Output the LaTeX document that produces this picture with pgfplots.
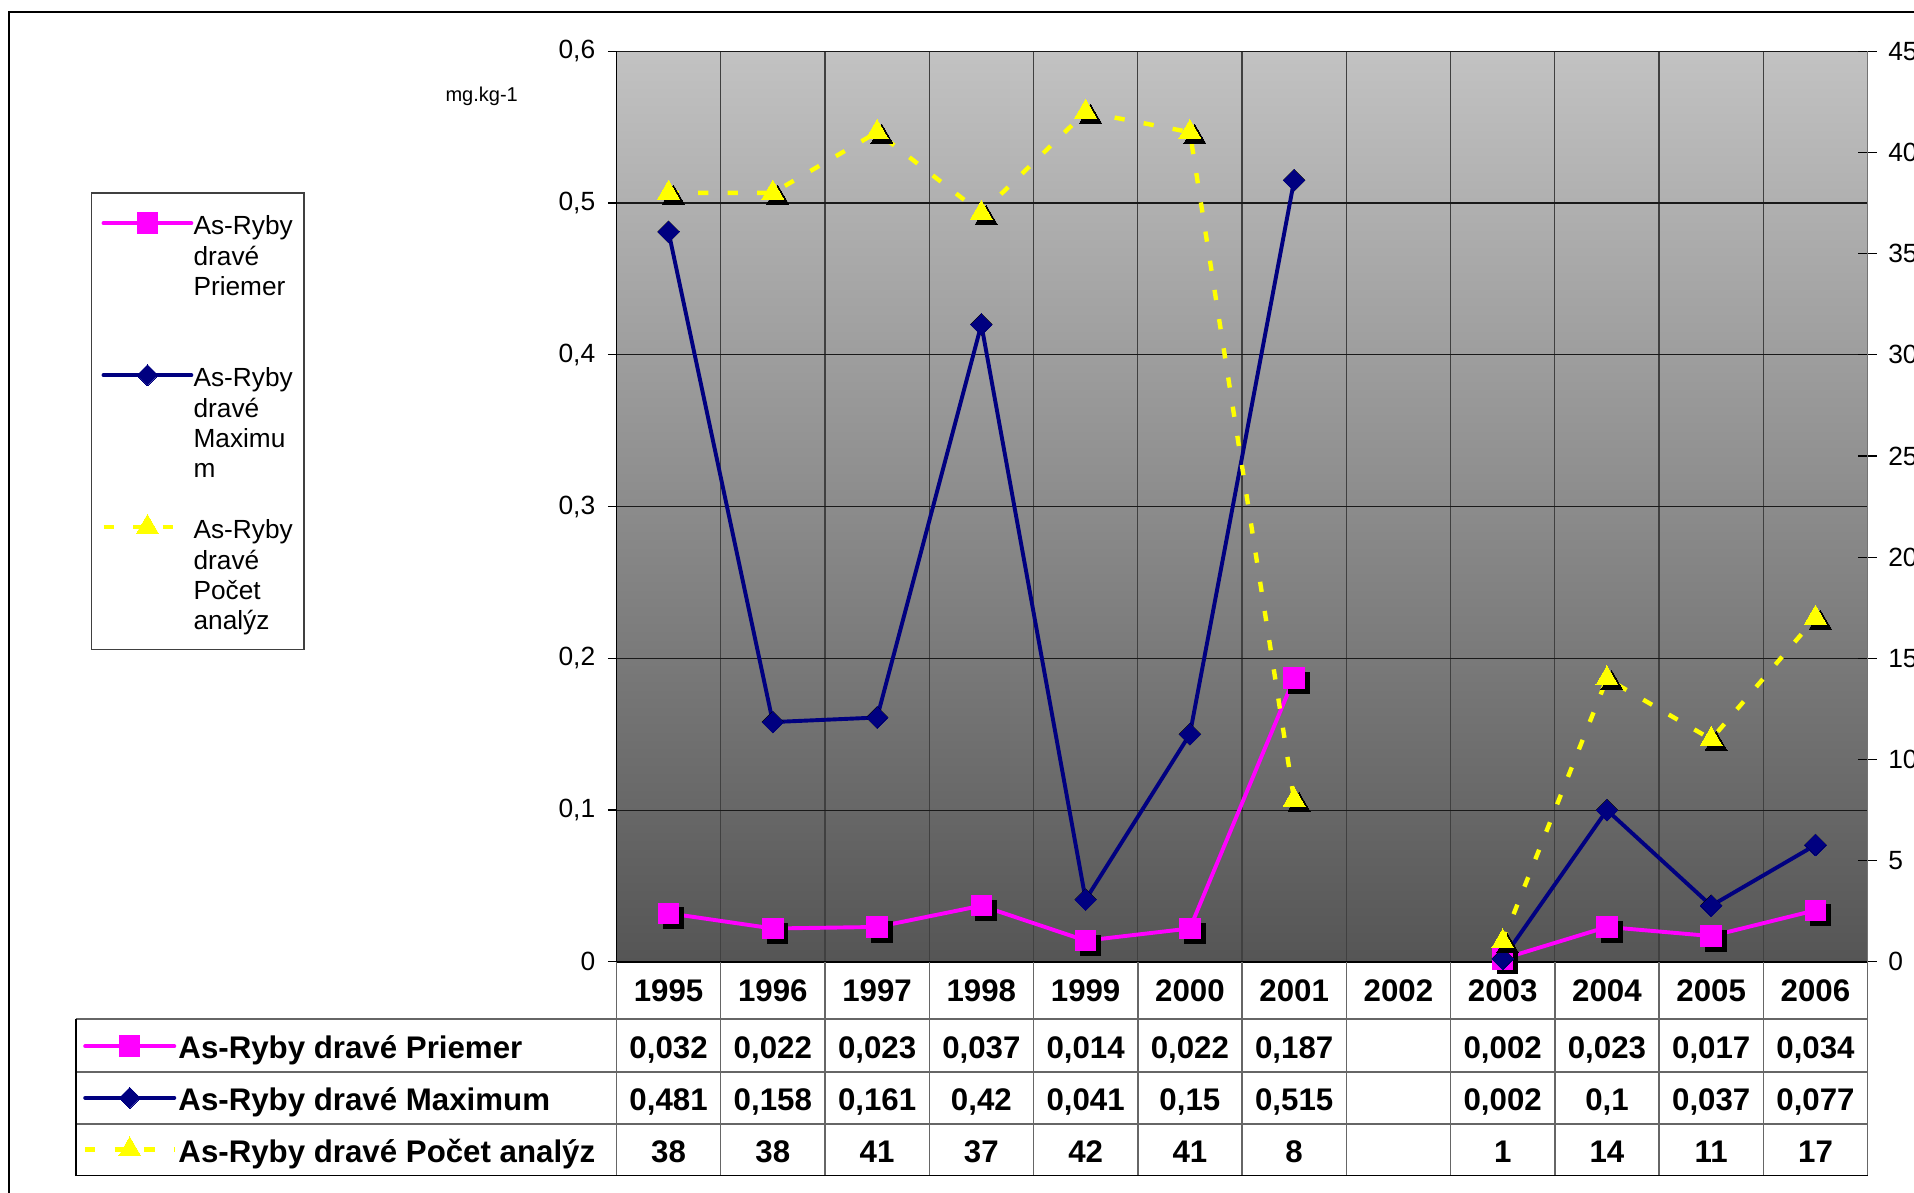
\documentclass[border=0pt]{standalone}
\usepackage{pgfplots}
\pgfplotsset{compat=1.18}
\usepackage{fontspec}
\setmainfont{Liberation Sans}
\definecolor{pmag}{HTML}{FF00FF}
\definecolor{pnavy}{HTML}{000080}
\definecolor{pyel}{HTML}{FFFF00}
\definecolor{bgtop}{HTML}{C2C2C2}
\definecolor{bgbot}{HTML}{555555}
\pgfplotsset{
  priemer/.style={color=pmag, line width=1.6pt, line cap=round, line join=round, mark=square*, mark size=4.2pt, mark options={solid, line width=0pt, fill=pmag}},
  maxim/.style={color=pnavy, line width=1.6pt, line cap=round, line join=round, mark=square*, mark size=3.05pt, mark options={solid, rotate=45, line width=0pt, fill=pnavy}},
  pocet/.style={color=pyel, line width=1.8pt, dash pattern=on 4.2pt off 7.9pt, mark=triangle*, mark size=5.2pt, mark options={solid, line width=0pt, fill=pyel}},
  shadow/.style={forget plot, only marks, color=black, mark options={solid, line width=0pt, fill=black, xshift=2pt, yshift=-2pt}},
}
\pgfplotstableread{
x priemer maxim pocet
0 0.032 0.481 38
1 0.022 0.158 38
2 0.023 0.161 41
3 0.037 0.420 37
4 0.014 0.041 42
5 0.022 0.150 41
6 0.187 0.515 8
7 nan nan nan
8 0.002 0.002 1
9 0.023 0.100 14
10 0.017 0.037 11
11 0.034 0.077 17
}\data
\begin{document}
\begin{tikzpicture}
\path[use as bounding box] (0pt,0pt) rectangle (784pt,488.5pt);
% outer chart border
\draw[line width=0.8pt] (3.7pt,-5pt) -- (3.7pt,483.5pt) -- (800pt,483.5pt);
% legend frame
\draw[black!75, line width=0.6pt] (37.5pt,222.5pt) rectangle (124.5pt,409.5pt);
% unit label
\node[anchor=base west, inner sep=0pt, font=\fontsize{8.2pt}{10pt}\selectfont] at (182.3pt,446.85pt) {mg.kg-1};

\begin{axis}[
  at={(252.5pt,94.5pt)}, anchor=south west,
  width=512.5pt, height=373pt, scale only axis,
  clip=false,
  xmin=-0.5, xmax=11.5, ymin=0, ymax=0.6,
  axis lines*=left,
  axis line style={black, line width=0.7pt},
  axis background/.style={top color=bgtop, bottom color=bgbot},
  xtick={0,...,11},
  xticklabels={1995,1996,1997,1998,1999,2000,2001,2002,2003,2004,2005,2006},
  x tick style={draw=none},
  minor xtick={0.5,1.5,...,10.5},
  xminorgrids=true,
  minor x grid style={black!75, line width=0.5pt},
  xticklabel style={font=\fontsize{12.8pt}{15pt}\selectfont\bfseries, anchor=base, inner sep=0pt, yshift=-12.8pt},
  ytick={0,0.1,0.2,0.3,0.4,0.5,0.6},
  yticklabels={0,{0,1},{0,2},{0,3},{0,4},{0,5},{0,6}},
  ymajorgrids=true,
  major y grid style={black!90, line width=0.45pt},
  y tick style={black, line width=0.5pt},
  tick align=outside, major tick length=3.5pt, minor tick length=0pt,
  yticklabel style={font=\fontsize{10.8pt}{12pt}\selectfont, anchor=east, inner sep=0pt, xshift=-5pt},
  unbounded coords=jump,
  legend image code/.code={\draw[mark repeat=2,mark phase=2,#1] plot coordinates {(0pt,4.8pt) (18pt,4.8pt) (36pt,4.8pt)};},
  legend style={at={(-0.411707,0.825603)}, anchor=north west, draw=none, fill=none,
    inner sep=0pt, outer sep=0pt, row sep=0pt, column sep=0pt,
    font=\fontsize{10.75pt}{12.4pt}\selectfont,
    nodes={inner sep=0pt, outer sep=0pt, text height=10.2pt, text depth=52.05pt},
    cells={anchor=base west}},
]
\addplot[shadow, mark=square*, mark size=4.2pt] table[x=x, y=priemer] {\data};
\addplot[priemer] table[x=x, y=priemer] {\data};
\addlegendentry{\parbox[t]{46pt}{As-Ryby\\dravé\\Priemer}}
\addplot[shadow, mark=square*, mark size=3.05pt, mark options={rotate=45}] table[x=x, y=maxim] {\data};
\addplot[maxim] table[x=x, y=maxim] {\data};
\addlegendentry{\parbox[t]{46pt}{As-Ryby\\dravé\\Maximu\\m}}
\addlegendimage{pocet}
\addlegendentry{\parbox[t]{46pt}{As-Ryby\\dravé\\Počet\\analýz}}
\end{axis}

\begin{axis}[
  at={(252.5pt,94.5pt)}, anchor=south west,
  width=512.5pt, height=373pt, scale only axis,
  clip=false,
  xmin=-0.5, xmax=11.5, ymin=0, ymax=45,
  axis x line=none, axis y line*=right,
  axis line style={black!55, line width=0.7pt},
  ytick={0,5,10,15,20,25,30,35,40,45},
  yticklabels={0,5,10,15,20,25,30,35,40,45},
  y tick style={black, line width=0.5pt},
  tick align=center, major tick length=7.5pt,
  yticklabel style={font=\fontsize{10.8pt}{12pt}\selectfont, anchor=west, inner sep=0pt, xshift=4.5pt},
  unbounded coords=jump,
  legend image code/.code={\draw[mark repeat=2,mark phase=2,#1] plot coordinates {(0pt,5.2pt) (18.25pt,5.2pt) (36.5pt,5.2pt)};},
  legend style={at={(-0.426341,-0.076944)}, anchor=north west, draw=none, fill=none,
    inner sep=0pt, outer sep=0pt, row sep=0pt, column sep=0.8pt,
    font=\fontsize{12.8pt}{15pt}\selectfont\bfseries,
    nodes={inner sep=0pt, outer sep=0pt, text height=11pt, text depth=10.2pt},
    cells={anchor=base west}},
]
\addlegendimage{priemer}
\addlegendentry{As-Ryby dravé Priemer}
\addlegendimage{maxim}
\addlegendentry{As-Ryby dravé Maximum}
\addplot[shadow, mark=triangle*, mark size=5.2pt] table[x=x, y=pocet] {\data};
\addplot[pocet] table[x=x, y=pocet] {\data};
\addlegendentry{As-Ryby dravé Počet analýz}
\end{axis}

% data table grid
\foreach \k in {0,...,12}
  \draw[black!60, line width=0.6pt] ({252.5pt+\k*42.70833pt},7pt) -- ({252.5pt+\k*42.70833pt},94.5pt);
\draw[black!60, line width=0.8pt] (31pt,71pt) -- (765pt,71pt);
\draw[black!60, line width=0.8pt] (31pt,49.5pt) -- (765pt,49.5pt);
\draw[black!60, line width=0.8pt] (31pt,28pt) -- (765pt,28pt);
\draw[black, line width=0.8pt] (31pt,71pt) -- (31pt,7pt) -- (765pt,7pt);
% data table values
\foreach \v [count=\i from 0] in {{0,032},{0,022},{0,023},{0,037},{0,014},{0,022},{0,187},{},{0,002},{0,023},{0,017},{0,034}}
  \node[anchor=base, inner sep=0pt, font=\fontsize{12.8pt}{15pt}\selectfont\bfseries] at ({252.5pt+(\i+0.5)*42.70833pt},54.8pt) {\v};
\foreach \v [count=\i from 0] in {{0,481},{0,158},{0,161},{0,42},{0,041},{0,15},{0,515},{},{0,002},{0,1},{0,037},{0,077}}
  \node[anchor=base, inner sep=0pt, font=\fontsize{12.8pt}{15pt}\selectfont\bfseries] at ({252.5pt+(\i+0.5)*42.70833pt},33.6pt) {\v};
\foreach \v [count=\i from 0] in {38,38,41,37,42,41,8,{},1,14,11,17}
  \node[anchor=base, inner sep=0pt, font=\fontsize{12.8pt}{15pt}\selectfont\bfseries] at ({252.5pt+(\i+0.5)*42.70833pt},12.4pt) {\v};
\end{tikzpicture}
\end{document}
